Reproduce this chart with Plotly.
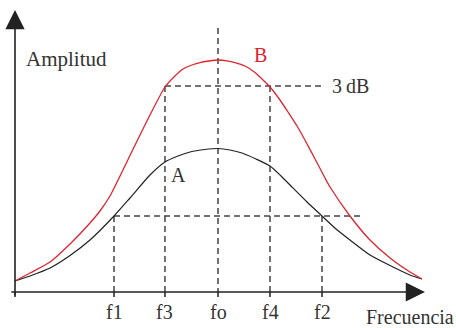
import plotly.graph_objects as go

# Curve B (red) - frequency (arbitrary units) vs amplitude (arbitrary units)
freq_b = [0.00, 1.44, 3.37, 5.29, 7.21, 8.17, 9.13, 10.38, 11.83, 12.98, 14.42, 15.38,
          16.15, 17.02, 17.79, 18.65, 19.52, 20.38, 21.15, 22.12, 23.08, 23.75, 24.52,
          25.48, 26.25, 27.12, 27.88, 28.85, 29.81, 30.29, 32.21, 34.13, 36.06, 37.98, 39.13]
amp_b = [4.74, 8.19, 12.93, 20.69, 29.74, 34.91, 41.38, 52.59, 65.95, 76.29, 88.36, 93.10,
         96.12, 97.84, 98.92, 99.57, 100.00, 99.66, 98.92, 97.41, 94.61, 91.81, 88.36,
         82.76, 77.59, 71.55, 65.52, 57.33, 49.14, 45.26, 32.76, 22.41, 14.66, 8.62, 5.60]

# Curve A (black)
freq_a = [0.00, 1.44, 3.37, 5.29, 7.21, 9.52, 11.06, 12.98, 14.42, 15.67, 16.83, 18.27,
          19.52, 20.67, 21.83, 23.17, 24.52, 25.58, 26.63, 28.08, 29.52, 30.87, 32.21,
          34.13, 36.06, 37.98, 39.13]
amp_a = [4.74, 6.90, 10.34, 15.73, 22.41, 32.76, 40.52, 50.43, 56.03, 58.62, 60.34, 61.42,
         61.85, 61.21, 59.91, 57.33, 54.31, 50.00, 45.26, 38.79, 32.76, 27.16, 22.41,
         15.95, 11.42, 7.33, 5.60]

# Marked frequencies
f_labels = ["f1", "f3", "fo", "f4", "f2"]
f_values = [9.52, 14.42, 19.52, 24.52, 29.52]

level_3db = 88.8   # -3 dB level of curve B
level_a = 32.8     # -3 dB level of curve A

# pixel mapping helpers (plot area = whole figure, page margin removed)
W, H = 456, 328
PX_X, X0 = 10.4, 15
PX_Y, Y0 = 2.32, 292
x_min, x_max = -X0 / PX_X, (W - X0) / PX_X
y_min, y_max = -(H - Y0) / PX_Y, Y0 / PX_Y

DASH = "6px,4px"
DCOL = "#444444"
TXT = "#333333"
RED = "#dd2530"
FONT = "Liberation Serif, Times New Roman, serif"

fig = go.Figure()

def dashed(xs, ys):
    fig.add_trace(go.Scatter(x=xs, y=ys, mode="lines", hoverinfo="skip",
                             line=dict(color=DCOL, width=1.5, dash=DASH), showlegend=False))

# dashed guides
dashed([f_values[2], f_values[2]], [113.8, 0])
dashed([f_values[1], f_values[1]], [level_3db, 0])
dashed([f_values[3], f_values[3]], [level_3db, 0])
dashed([f_values[0], f_values[0]], [level_a, 0])
dashed([f_values[4], f_values[4]], [level_a, 0])
dashed([f_values[1], 29.42], [level_3db, level_3db])
dashed([f_values[0], 33.46], [level_a, level_a])

# curves
fig.add_trace(go.Scatter(x=freq_a, y=amp_a, mode="lines",
                         line=dict(color="#222222", width=1.2, shape="spline", smoothing=0.6),
                         showlegend=False, hoverinfo="skip"))
fig.add_trace(go.Scatter(x=freq_b, y=amp_b, mode="lines",
                         line=dict(color=RED, width=1.3, shape="spline", smoothing=0.6),
                         showlegend=False, hoverinfo="skip"))

# ticks under the x axis
for xv in [0] + f_values:
    fig.add_shape(type="line", x0=xv, x1=xv, y0=0, y1=-2.2, line=dict(color="#222222", width=1.5))

# axes with arrows
fig.add_annotation(x=39.42, y=0, ax=-0.5, ay=0, xref="x", yref="y", axref="x", ayref="y",
                   showarrow=True, arrowhead=2, arrowsize=2.4, arrowwidth=1.6, arrowcolor="#222222", text="")
fig.add_annotation(x=0, y=121.5, ax=0, ay=-2.2, xref="x", yref="y", axref="x", ayref="y",
                   showarrow=True, arrowhead=2, arrowsize=2.4, arrowwidth=1.6, arrowcolor="#222222", text="")

# texts
def label(x, y, s, color=TXT, anchor="center", size=20):
    fig.add_annotation(x=x, y=y, text=s, showarrow=False, xanchor=anchor, yanchor="middle",
                       font=dict(family=FONT, size=size, color=color))

for lab, xv in zip(f_labels, f_values):
    label(xv, -8.6, lab)
label(0.87, 100.4, "Amplitud", anchor="left", size=21)
label(33.56, -10.6, "Frecuencia", anchor="left", size=20)
label(23.56, 102.2, "B", color=RED)
label(15.72, 50.4, "A")
label(30.29, level_3db, "3\u2009dB", anchor="left")

fig.update_layout(
    width=W, height=H, margin=dict(l=0, r=0, t=0, b=0, pad=0),
    paper_bgcolor="white", plot_bgcolor="white",
    xaxis=dict(range=[x_min, x_max], visible=False, fixedrange=True),
    yaxis=dict(range=[y_min, y_max], visible=False, fixedrange=True),
    showlegend=False,
)

fig.write_html("out.html", config={"displayModeBar": False},
               post_script="document.body.style.margin='0';document.body.style.overflow='hidden';")
